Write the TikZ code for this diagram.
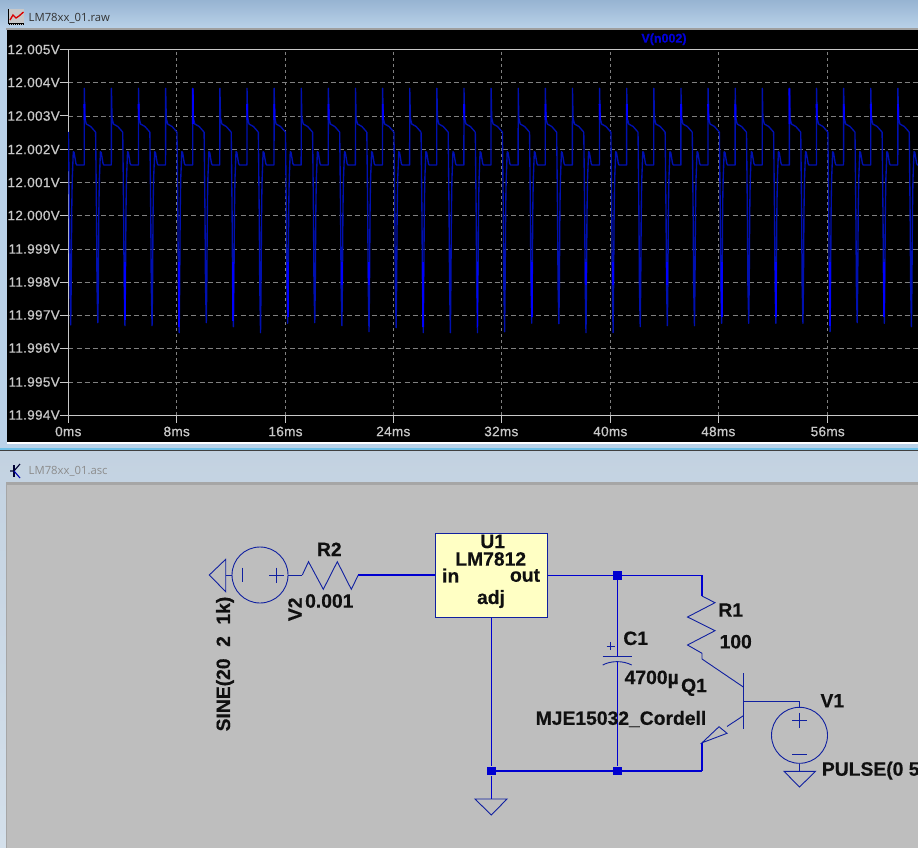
\documentclass[tikz,border=0pt]{standalone}
\usepackage{fontspec}
\setmainfont{Liberation Sans}
\newfontfamily\uifont{Open Sans}
\newfontfamily\axisfont[FakeBold=0.6,LetterSpace=2]{Liberation Sans}
\newfontfamily\labfont[FakeBold=0.4]{Liberation Sans Bold}
\usetikzlibrary{calc}
\definecolor{barA}{HTML}{97B4D2}
\definecolor{barB}{HTML}{BAD2E9}
\definecolor{barC}{HTML}{C3D2E1}
\definecolor{barD}{HTML}{D4E0EB}
\definecolor{sheet}{HTML}{BEBEBE}
\definecolor{wirec}{HTML}{0000D0}
\definecolor{symc}{HTML}{1020A0}
\definecolor{tracec}{HTML}{0010B0}
\definecolor{brightc}{HTML}{0000FF}
\definecolor{gridc}{HTML}{808080}
\definecolor{axisc}{HTML}{C8C8C8}
\definecolor{inkc}{HTML}{101010}
\definecolor{ublock}{HTML}{FFFFC4}
\tikzset{
  x=1pt,y=-1pt,
  wire/.style={draw=wirec,line width=1.2pt},
  sym/.style={draw=symc,line width=0.9pt,line join=miter},
  gridline/.style={draw=gridc,line width=0.8pt,dash pattern=on 5pt off 3.2pt},
  gridlinev/.style={draw=gridc,line width=0.8pt,dash pattern=on 3pt off 3pt},
  axisline/.style={draw=axisc,line width=1pt},
  ylab/.style={anchor=east,inner sep=0pt,text=axisc,font=\axisfont\fontsize{13.6}{14}\selectfont},
  xlab/.style={anchor=center,inner sep=0pt,text=axisc,font=\axisfont\fontsize{13.6}{14}\selectfont},
  lab/.style={inner sep=0pt,text=inkc,font=\labfont\fontsize{19.3}{19.3}\selectfont},
  junction/.style={rectangle,fill=wirec,inner sep=0pt,minimum size=8.8pt},
  srcbody/.style={circle,draw=symc,line width=0.9pt,inner sep=0pt,minimum size=56pt},
  trace/.style={draw=tracec,line width=1.35pt,line join=round},
  bright/.style={draw=brightc,line width=1.9pt},
  titletext/.style={anchor=west,inner sep=0pt,font=\uifont\fontsize{11.3}{12}\selectfont},
}
\begin{document}
\begin{tikzpicture}
\clip (0,0) rectangle (918,848);
% window chrome
\fill[barB] (0,0) rectangle (918,448);
\shade[top color=barA,bottom color=barB] (0,0) rectangle (918,29);
\fill[gray!75] (6,28.5) rectangle (918,30);
\fill[black] (7,30) rectangle (918,441.5);
\fill[white] (7,441.5) rectangle (918,443.5);
\fill[cyan!45!barB] (0,448) rectangle (918,450);
\fill[black!75] (0,450) rectangle (918,451.2);
\shade[top color=barC,bottom color=barD] (0,451.2) rectangle (918,848);
\fill[gray!70] (6,482) rectangle (918,484.5);
\fill[gray!70] (6,482) rectangle (7.2,848);
\fill[sheet] (7.2,484.5) rectangle (918,848);
% title of the plot window
\fill[axisc] (8.5,9) rectangle (24,25);
\draw[black,line width=0.8pt] (8.5,9) -- (8.5,23) -- (24,23);
\draw[black,line width=0.8pt,dash pattern=on 1pt off 1pt] (9,24.5) -- (24,24.5);
\draw[red!85!black,line width=1.3pt] (10,20) -- (13,15) -- (16,18) -- (19,16) -- (23.5,12);
\node[titletext,text=black!80] (rawtitle) at (28.5,18) {LM78xx\_01.raw};
% title of the schematic window
\draw[black!80!blue,line width=1.1pt] (14,465) -- (14,477);
\draw[black!80!blue,line width=1.1pt] (10,471) -- (14,471) -- (20,464);
\draw[blue!70!black,line width=1.1pt] (14,471) -- (20,478);
\node[titletext,text=black!45] (asctitle) at (28.5,471) {LM78xx\_01.asc};
% grid
\foreach \yy in {82.5,116,149.5,182.5,215.5,249,282,315,348,382}
  \draw[gridline] (68.3,\yy) -- (918,\yy);
\foreach \xx in {176.7,285.5,393.3,501.3,610.3,718.3,827.7}
  \draw[gridlinev] (\xx,52) -- (\xx,415);
% axes
\draw[axisline] (60,49.5) -- (918,49.5);
\draw[axisline] (68.3,49.5) -- (68.3,415) -- (918,415);
\foreach \yy in {82.5,116,149.5,182.5,215.5,249,282,315,348,382,415}
  \draw[axisline] (60,\yy) -- (68.3,\yy);
\foreach \xx in {68.3,176.7,285.5,393.3,501.3,610.3,718.3,827.7}
  \draw[axisline] (\xx,415) -- (\xx,423);
% axis labels
\foreach \yy/\tt/\nn in {49.5/12.005V/a,82.5/12.004V/b,116/12.003V/c,149.5/12.002V/d,182.5/12.001V/e,215.5/12.000V/f,249/11.999V/g,282/11.998V/h,315/11.997V/i,348/11.996V/j,382/11.995V/k,415/11.994V/l}
  \node[ylab] (y\nn) at (60,\yy) {\tt};
\foreach \xx/\tt/\nn in {68.3/0ms/a,176.7/8ms/b,285.5/16ms/c,393.3/24ms/d,501.3/32ms/e,610.3/40ms/f,718.3/48ms/g,827.7/56ms/h}
  \node[xlab] (x\nn) at (\xx,431.5) {\tt};
\node[inner sep=0pt,text=brightc!85!black,font=\labfont\fontsize{12.5}{12.5}\selectfont] (tracename) at (664,39.3) {V(n002)};
% trace
\begin{scope}
\clip (68,30) rectangle (918,441);
\foreach \k/\b/\sb/\pb in {
 0/325/0/2,1/322.7/0/0,2/325.7/1/2,3/325.7/0/0,4/332.7/1/1,5/322.7/0/0,6/326.7/1/2,7/332.7/0/2,
 8/323.3/1/0,9/322.7/0/2,10/325.7/2/0,11/331.7/2/2,12/327.7/0/0,13/332.7/1/0,14/332.7/0/2,15/332.7/1/0,
 16/331.7/0/0,17/323.3/1/2,18/323.7/0/0,19/332.7/2/2,20/332.7/2/2,21/326.7/0/0,22/325.7/2/2,23/325.7/0/2,
 24/323.3/1/2,25/323.3/0/0,26/323.3/1/1,27/323.3/0/2,28/331.7/1/2,29/322.7/0/2,30/323.3/1/2,31/326.7/0/0}{
  \pgfmathsetmacro{\s}{70.7+27.12*\k}
  \draw[trace] ({\s-2.2},132) -- ({\s-1.3},215) -- ({\s-0.8},285) -- (\s,\b) -- ({\s+0.5},285)
    -- ({\s+1},215) -- ({\s+1.3},193) -- ({\s+1.6},178) -- ({\s+2.6},151.7) -- ({\s+3.4},152.5)
    -- ({\s+5.2},163.5) -- ({\s+6},165) -- ({\s+13.5},165) -- ({\s+13.6},88.3) -- ({\s+14.2},118)
    -- ({\s+15.6},124) -- ({\s+20},126.5) -- ({\s+24.8},132);
  \ifnum\sb=1
    \draw[bright] (\s,262) -- (\s,{\b-6});
  \fi
  \ifnum\sb=2
    \draw[bright] (\s,262) -- (\s,285);
  \fi
  \ifnum\pb=1
    \draw[bright] ({\s+13.6},88.3) -- ({\s+13.7},124);
  \fi
  \ifnum\pb=2
    \draw[bright] ({\s+13.7},104) -- ({\s+13.9},120);
  \fi
}
\end{scope}
% schematic: named points
\coordinate (gndLtip) at (209.3,575);
\node[srcbody] (V2) at (260,575) {};
\coordinate (R2a) at (302.3,575);
\coordinate (R2b) at (358.3,575);
\node[rectangle,draw=symc,line width=0.9pt,fill=ublock,inner sep=0pt,minimum width=112.4pt,minimum height=84pt] (U1) at (491.5,575.3) {};
\node[junction] (J1) at (617.5,575.3) {};
\node[junction] (J2) at (617.5,771) {};
\node[junction] (J3) at (491.3,771) {};
\coordinate (R1top) at (702,575.3);
\coordinate (R1a) at (702,596);
\coordinate (R1b) at (702,659);
\coordinate (C1a) at (617.5,656.3);
\coordinate (C1b) at (617.5,662);
\coordinate (Qb) at (743.3,701.3);
\coordinate (Qc) at (743.3,687);
\coordinate (Qe) at (743.3,715.7);
\coordinate (Qet) at (702,742.8);
\coordinate (Qeb) at (702,771);
\node[srcbody] (V1) at (799.5,735.3) {};
\coordinate (V1top) at (799.5,701.3);
\coordinate (G1) at (491.3,799);
\coordinate (G2) at (799.5,771.3);
% wires
\draw[wire] (R2b) -- (R2b -| U1.west);
\draw[wire] (U1.east |- J1) -- (J1);
\draw[wire] (J1) -- (C1a);
\draw[wire] (C1b) -- (J2);
\draw[wire] (U1.south -| J3) -- (J3) -- (G1);
\draw[wire] (J3) -- (J2) -- (Qeb);
\draw[wire] (J1) -- (R1top) -- (R1a);
\draw[wire] (Qet) -- (Qeb);
% ground symbols
\draw[sym] (gndLtip) -- (225.7,559.3) -- (225.7,591.7) -- cycle;
\draw[sym] (475,799) -- (507,799) -- (491.3,815) -- cycle;
\draw[sym] (784,771.3) -- (815.5,771.3) -- (799.5,787) -- cycle;
% V2
\draw[sym] (225.7,575) -- (V2.west);
\draw[sym] (V2.east) -- (R2a);
\draw[sym] (242.7,567.7) -- (242.7,582.3);
\draw[sym] (269.2,575) -- (284.2,575) (276.7,567.5) -- (276.7,582.5);
% R2
\draw[sym] (R2a) -- (308.5,561.7) -- (323.3,589.3) -- (337.3,561.7) -- (351.3,589.3) -- (R2b);
% C1
\draw[sym] (602.7,656.3) -- (631.7,656.3);
\draw[sym] (602.7,665) .. controls (611,660.5) and (623,660.5) .. (631.7,665);
\draw[sym] (606.7,646) -- (614.7,646) (610.7,642) -- (610.7,650);
% R1
\draw[sym] (R1a) -- (715,602.7) -- (687.5,617) -- (715,630.7) -- (687.5,645) -- (702,653.3) -- (R1b);
% Q1
\draw[sym] (R1b) -- (Qc);
\draw[sym] (743.3,673.3) -- (743.3,729.3);
\draw[sym] (Qe) -- (727,726.5);
\draw[sym] (Qet) -- (719,726.7) -- (727,733.3) -- cycle;
\draw[sym] (Qb) -- (V1top) -- (V1.north);
% V1
\draw[sym] (V1.south) -- (G2);
\draw[sym] (792,720.3) -- (807,720.3) (799.5,712.8) -- (799.5,727.8);
\draw[sym] (792,754.3) -- (807,754.3);
% labels
\node[lab] (tU1) at (492.7,541.5) {U1};
\node[lab] (tLM) at (490.7,559) {LM7812};
\node[lab] (tin) at (450.7,575.5) {in};
\node[lab] (tout) at (525,575.5) {out};
\node[lab] (tadj) at (491,599) {adj};
\node[lab] (tR2) at (329.3,549.3) {R2};
\node[lab] (tR2v) at (329.3,601) {0.001};
\node[lab,rotate=90] (tV2) at (295,609.3) {V2};
\node[lab,rotate=90] (tV2v) at (225,664) {\spaceskip=0.6em SINE(20 2 1k)};
\node[lab] (tR1) at (730.7,610) {R1};
\node[lab] (tR1v) at (735.7,641.7) {100};
\node[lab] (tC1) at (635.7,638.3) {C1};
\node[lab] (tC1v) at (651.7,679.3) {4700µ};
\node[lab] (tQ1) at (694,687.3) {Q1};
\node[lab] (tQ1v) at (621,719) {MJE15032\_Cordell};
\node[lab] (tV1) at (832.3,700.7) {V1};
\node[lab,anchor=west] (tV1v) at (821.7,770.7) {PULSE(0 5};
\end{tikzpicture}
\end{document}
